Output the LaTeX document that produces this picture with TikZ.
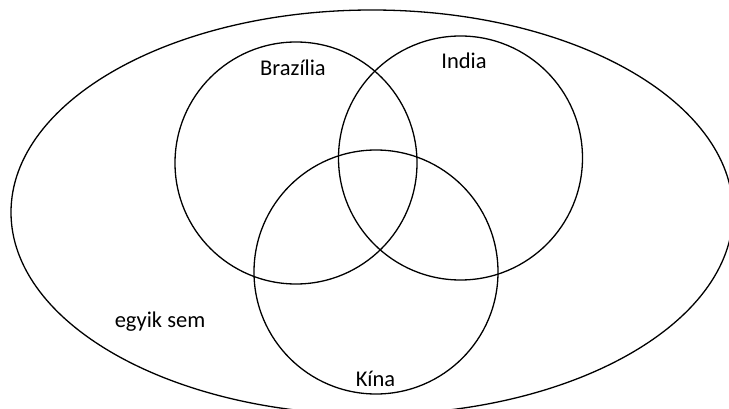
\documentclass[tikz,border=0pt]{standalone}
\usepackage{fontspec}
\setmainfont{Carlito}
\begin{document}
\begin{tikzpicture}[x=1pt,y=-1pt,
  setline/.style={draw=black,line width=1.3pt},
  lbl/.style={font=\fontsize{22.5}{26}\selectfont,anchor=base,inner sep=0pt}]
\useasboundingbox (0,0) rectangle (729,409);
\clip (0,0) rectangle (729,409);
\draw[setline] (372,212.3) ellipse [x radius=361, y radius=202.3];
\draw[setline] (296,163) circle [radius=121];
\draw[setline] (460.5,158) circle [radius=122];
\draw[setline] (376,272) circle [radius=122];
\node[lbl] (bra) at (293,76) {Brazília};
\node[lbl] (ind) at (464,69) {India};
\node[lbl] (kin) at (375.5,386) {Kína};
\node[lbl] (egy) at (160,327) {egyik sem};
\end{tikzpicture}
\end{document}
